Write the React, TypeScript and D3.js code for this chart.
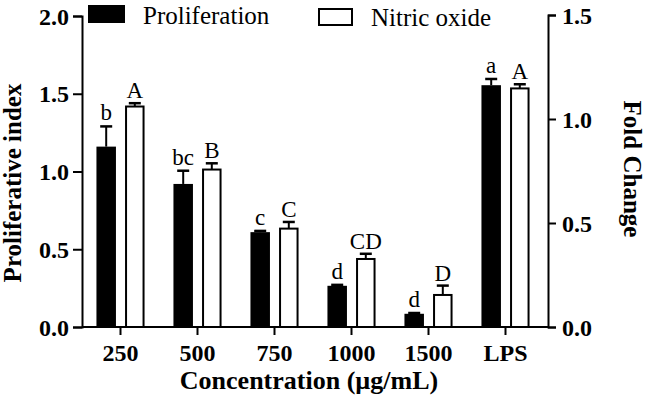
import React, { useEffect, useRef } from "react";
import * as d3 from "d3";

const categories = ["250", "500", "750", "1000", "1500", "LPS"];
const prolifValues = [1.16, 0.92, 0.61, 0.265, 0.085, 1.555];
const prolifErrors = [0.13, 0.085, 0.008, 0.006, 0.005, 0.04];
const prolifLetters = ["b", "bc", "c", "d", "d", "a"];
const noValues = [1.06, 0.757, 0.473, 0.327, 0.154, 1.147];
const noErrors = [0.016, 0.03, 0.032, 0.025, 0.045, 0.02];
const noLetters = ["A", "B", "C", "CD", "D", "A"];
const leftTicks = [0, 0.5, 1.0, 1.5, 2.0];
const rightTicks = [0, 0.5, 1.0, 1.5];

const FONT = "Liberation Serif, serif";

export default function App() {
  const ref = useRef<SVGSVGElement>(null);

  useEffect(() => {
    const svg = d3.select(ref.current);
    svg.selectAll("*").remove();

    const x = d3.scaleBand<string>().domain(categories).range([82, 544]);
    const yL = d3.scaleLinear().domain([0, 2]).range([327, 16]);
    const yR = d3.scaleLinear().domain([0, 1.5]).range([327, 15]);
    const cx = (c: string) => (x(c) as number) + x.bandwidth() / 2;
    const off = 14.3;
    const bw = 19.5;

    const g = svg.append("g");
    categories.forEach((c, i) => {
      const xb = cx(c) - off;
      g.append("rect")
        .attr("x", xb - bw / 2)
        .attr("y", yL(prolifValues[i]))
        .attr("width", bw)
        .attr("height", yL(0) - yL(prolifValues[i]))
        .attr("fill", "#000");
      const eTop = yL(prolifValues[i] + prolifErrors[i]);
      g.append("line")
        .attr("x1", xb).attr("x2", xb)
        .attr("y1", yL(prolifValues[i])).attr("y2", eTop)
        .attr("stroke", "#000").attr("stroke-width", 2);
      g.append("line")
        .attr("x1", xb - 6).attr("x2", xb + 6)
        .attr("y1", eTop).attr("y2", eTop)
        .attr("stroke", "#000").attr("stroke-width", 2.5);
      g.append("text")
        .attr("x", xb).attr("y", eTop - 6)
        .attr("text-anchor", "middle")
        .attr("font-family", FONT).attr("font-size", 23)
        .text(prolifLetters[i]);

      const xw = cx(c) + off;
      g.append("rect")
        .attr("x", xw - (bw - 2) / 2)
        .attr("y", yR(noValues[i]))
        .attr("width", bw - 2)
        .attr("height", yR(0) - yR(noValues[i]))
        .attr("fill", "#fff")
        .attr("stroke", "#000").attr("stroke-width", 2);
      const eTopW = yR(noValues[i] + noErrors[i]);
      g.append("line")
        .attr("x1", xw).attr("x2", xw)
        .attr("y1", yR(noValues[i])).attr("y2", eTopW)
        .attr("stroke", "#000").attr("stroke-width", 2);
      g.append("line")
        .attr("x1", xw - 6).attr("x2", xw + 6)
        .attr("y1", eTopW).attr("y2", eTopW)
        .attr("stroke", "#000").attr("stroke-width", 2.5);
      g.append("text")
        .attr("x", xw).attr("y", eTopW - 5)
        .attr("text-anchor", "middle")
        .attr("font-family", FONT).attr("font-size", 23)
        .text(noLetters[i]);
    });

    const styleAxis = (sel: any) => {
      sel.attr("font-family", FONT);
      sel.selectAll("path").attr("stroke", "#000").attr("stroke-width", 2);
      sel.selectAll("line").attr("stroke", "#000").attr("stroke-width", 2);
      sel.selectAll("text")
        .attr("font-family", FONT)
        .attr("font-size", 24)
        .attr("font-weight", "bold")
        .attr("fill", "#000");
    };

    const left = svg.append("g").attr("transform", "translate(82,0)")
      .call(d3.axisLeft(yL).tickValues(leftTicks).tickFormat(d3.format(".1f")).tickSizeOuter(0).tickSize(9).tickPadding(4));
    styleAxis(left);
    left.selectAll("text").attr("dy", "0.34em");

    const right = svg.append("g").attr("transform", "translate(548,0)")
      .call(d3.axisRight(yR).tickValues(rightTicks).tickFormat(d3.format(".1f")).tickSizeOuter(0).tickSize(8).tickPadding(6));
    styleAxis(right);
    right.selectAll("text").attr("dy", "0.34em");

    const bottom = svg.append("g").attr("transform", "translate(0,327)")
      .call(d3.axisBottom(x).tickSizeOuter(0).tickSize(8).tickPadding(9));
    styleAxis(bottom);
    bottom.select("path").attr("d", "M82,0H548");
    bottom.selectAll("text").attr("dy", "0.71em").attr("y", 17);

    svg.append("text")
      .attr("transform", "translate(21,183) rotate(-90)")
      .attr("text-anchor", "middle")
      .attr("font-family", FONT).attr("font-size", 25).attr("font-weight", "bold")
      .text("Proliferative index");
    svg.append("text")
      .attr("transform", "translate(624,169) rotate(90)")
      .attr("text-anchor", "middle")
      .attr("font-family", FONT).attr("font-size", 25).attr("font-weight", "bold")
      .text("Fold Change");
    svg.append("text")
      .attr("x", 309).attr("y", 389)
      .attr("text-anchor", "middle")
      .attr("font-family", FONT).attr("font-size", 26).attr("font-weight", "bold")
      .text("Concentration (\u00b5g/mL)");

    svg.append("rect").attr("x", 88).attr("y", 5).attr("width", 37).attr("height", 18).attr("fill", "#000");
    svg.append("text").attr("x", 143).attr("y", 24)
      .attr("font-family", FONT).attr("font-size", 25).text("Proliferation");
    svg.append("rect").attr("x", 319).attr("y", 9).attr("width", 33).attr("height", 16)
      .attr("fill", "#fff").attr("stroke", "#000").attr("stroke-width", 2);
    svg.append("text").attr("x", 371).attr("y", 26)
      .attr("font-family", FONT).attr("font-size", 25).text("Nitric oxide");
  }, []);

  return (
    <svg
      ref={ref}
      width={646}
      height={405}
      style={{ position: "absolute", left: 0, top: 0, background: "#fff" }}
    />
  );
}
